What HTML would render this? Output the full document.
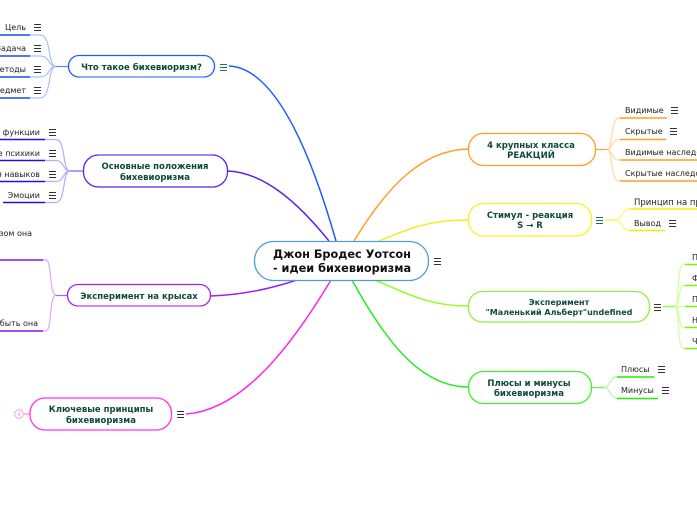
<!DOCTYPE html>
<html><head><meta charset="utf-8"><style>
html,body{margin:0;padding:0;background:#fff;width:697px;height:520px;overflow:hidden}
svg{display:block}
text{font-family:"DejaVu Sans",sans-serif}
.b{font-size:8.5px;font-weight:bold;fill:#0f4a3a;text-anchor:middle}
.l{font-size:8px;fill:#222}
.e{text-anchor:end}
.m{stroke:#333;stroke-width:1;fill:none}
.f{fill:none}
rect{stroke-width:1.3}
</style></head><body>
<svg width="697" height="520" viewBox="0 0 697 520" xmlns="http://www.w3.org/2000/svg">
<defs>
<path id="menu" d="M0 0.5H7M0 3.5H7M0 6.5H7"/>
</defs>

<!-- main connectors -->
<g class="f" stroke-width="1.500">
<path d="M229 66C275 68 310 150 336 241" stroke="#1a5cff"/>
<path d="M227 171C265 172 300 205 329 241" stroke="#5a22ee"/>
<path d="M211 296C240 295 270 289 297 280" stroke="#a020f0"/>
<path d="M186 414C245 410 295 340 331 280" stroke="#ff22ee"/>
<path d="M354 241C385 190 420 150 468 149" stroke="#ffa020"/>
<path d="M379 241C410 228 430 220 468 220" stroke="#f0f020"/>
<path d="M375 280C410 295 430 306 468 306" stroke="#90ff20"/>
<path d="M352 280C385 340 420 387 468 387" stroke="#22ee22"/>
</g>

<!-- blue -->
<g class="f" stroke="#a8bfff" stroke-width="1.200">
<path d="M30 35H40C52 35 47 66 56 66.500"/>
<path d="M30 56H40C50 56 48 66.500 56 66.500"/>
<path d="M30 77H40C50 77 48 66.500 56 66.500"/>
<path d="M30 98H40C52 98 47 66.500 56 66.500"/>
<path d="M56 66.500H68" stroke="#5a8cff"/>
</g>
<g stroke="#1a4cf0" stroke-width="1.500"><path d="M0 35H30M0 56H30M0 77H30M0 98H30"/></g>
<rect x="68.500" y="55.500" width="146" height="21.500" rx="10.500" fill="#fff" stroke="#1a5cff"/>
<path d="M79 77H204" stroke="#7fa4ff" stroke-width="1.500"/>
<text class="b" x="141.500" y="70">Что такое бихевиоризм?</text>
<text class="l e" x="26" y="30">Цель</text>
<text class="l e" x="26" y="51">Задача</text>
<text class="l e" x="26" y="72">Методы</text>
<text class="l e" x="26" y="93">Предмет</text>
<g class="m"><use href="#menu" x="34" y="24"/><use href="#menu" x="34" y="45"/><use href="#menu" x="34" y="66"/><use href="#menu" x="34" y="87"/><use href="#menu" x="220" y="64" stroke="#2a6a5a"/></g>

<!-- purple-blue -->
<g class="f" stroke="#b8a8ff" stroke-width="1.200">
<path d="M45 139.500H56C66 139.500 62 171 70 171"/>
<path d="M45 160.500H56C64 160.500 63 171 70 171"/>
<path d="M45 181.500H56C64 181.500 63 171 70 171"/>
<path d="M45 202.500H56C66 202.500 62 171 70 171"/>
<path d="M70 171H83" stroke="#7a5aff"/>
</g>
<g stroke="#2a0ae8" stroke-width="1.500"><path d="M0 139.500H45M0 160.500H45M0 181.500H45M3 202.500H45"/></g>
<rect x="83.500" y="155" width="144" height="32" rx="15" fill="#fff" stroke="#5a22ee"/>
<path d="M98 155H212" stroke="#8a70ff" stroke-width="1.500"/>
<text class="b" x="155" y="169">Основные положения</text>
<text class="b" x="155" y="180">бихевиоризма</text>
<text class="l e" x="40" y="135">функции</text>
<text class="l e" x="40" y="156">е психики</text>
<text class="l e" x="40" y="177">я навыков</text>
<text class="l e" x="40" y="198">Эмоции</text>
<g class="m"><use href="#menu" x="49" y="129"/><use href="#menu" x="49" y="150"/><use href="#menu" x="49" y="171"/><use href="#menu" x="49" y="192"/></g>

<!-- rats -->
<g class="f" stroke="#d8a8ff" stroke-width="1.200">
<path d="M43 260H46C52 260 49 295 56 295"/>
<path d="M43 331H46C52 331 49 295 56 295"/>
<path d="M56 295.500H67" stroke="#b060ff"/>
</g>
<g stroke="#8a10e8" stroke-width="1.500"><path d="M0 260H43M0 331H43"/></g>
<rect x="67.500" y="284.500" width="143" height="21.500" rx="10.500" fill="#fff" stroke="#a020f0"/>
<path d="M78 306H200" stroke="#c878ff" stroke-width="1.500"/>
<text class="b" x="139" y="299">Эксперимент на крысах</text>
<text class="l e" x="32" y="236">зом она</text>
<text class="l e" x="38" y="326">быть она</text>

<!-- pink -->
<path d="M24 414H30" stroke="#ff66ee" stroke-width="1"/>
<circle cx="19" cy="414" r="4.300" fill="#fff" stroke="#ff88f0" stroke-width="0.800"/>
<text x="19" y="416" font-size="5" fill="#ff88f0" text-anchor="middle">4</text>
<rect x="30" y="398" width="141.500" height="32" rx="15" fill="#fff" stroke="#ff33ee"/>
<text class="b" x="101" y="412">Ключевые принципы</text>
<text class="b" x="101" y="423">бихевиоризма</text>
<use href="#menu" x="177" y="411" class="m" stroke="#2a6a5a"/>

<!-- central -->
<rect x="254.500" y="241.500" width="174" height="39" rx="19" fill="#fff" stroke="#4a9fd8"/>
<text x="342" y="258" font-size="11.300" font-weight="bold" fill="#111" text-anchor="middle">Джон Бродес Уотсон</text>
<text x="342" y="272" font-size="11.300" font-weight="bold" fill="#111" text-anchor="middle">- идеи бихевиоризма</text>
<use href="#menu" x="434" y="258" class="m"/>

<!-- orange -->
<g class="f" stroke="#ffd8a0" stroke-width="1.200">
<path d="M620 118H619C610 118 613 149.500 607 149.500"/>
<path d="M620 139.500H619C612 139.500 612 149.500 607 149.500"/>
<path d="M620 160H619C612 160 612 149.500 607 149.500"/>
<path d="M620 181H619C610 181 613 149.500 607 149.500"/>
<path d="M595 149.500H607" stroke="#ffa040"/>
</g>
<g stroke="#ffa020" stroke-width="1.500"><path d="M620 118H667M620 139.500H666M620 160H697M620 181H697"/></g>
<rect x="468.500" y="133.500" width="127" height="32" rx="15" fill="#fff" stroke="#ffa020"/>
<text class="b" x="531" y="148">4 крупных класса</text>
<text class="b" x="531" y="158">РЕАКЦИЙ</text>
<text class="l" x="625" y="113">Видимые</text>
<text class="l" x="625" y="134">Скрытые</text>
<text class="l" x="625" y="155">Видимые наследственные</text>
<text class="l" x="625" y="176">Скрытые наследственные</text>
<g class="m"><use href="#menu" x="671" y="107"/><use href="#menu" x="670" y="128"/></g>

<!-- yellow -->
<g class="f" stroke="#f8f870" stroke-width="1.200">
<path d="M630 209H629C622 209 622 220 615 220"/>
<path d="M630 230.500H629C622 230.500 622 220 615 220"/>
<path d="M605 220H615" stroke="#f0f020"/>
</g>
<g stroke="#f0f000" stroke-width="1.500"><path d="M630 209H697M630 230.500H665"/></g>
<rect x="468.500" y="203.500" width="123" height="32.500" rx="15" fill="#fff" stroke="#f4f420"/>
<text class="b" x="530" y="218">Стимул - реакция</text>
<text class="b" x="530" y="228">S → R</text>
<text class="l" x="634" y="205" style="font-size:8.500px">Принцип на практике</text>
<text class="l" x="634" y="226">Вывод</text>
<g class="m"><use href="#menu" x="669" y="220"/><use href="#menu" x="596" y="217" stroke="#2a6a5a"/></g>

<!-- lime -->
<g class="f" stroke="#d0ffa0" stroke-width="1.200">
<path d="M685 264H684C676 264 680 306.500 675 306.500"/>
<path d="M685 285.500H684C678 285.500 680 306.500 675 306.500"/>
<path d="M685 306.500H675"/>
<path d="M685 327.500H684C678 327.500 680 306.500 675 306.500"/>
<path d="M685 348.500H684C676 348.500 680 306.500 675 306.500"/>
<path d="M663 306.500H675" stroke="#90ff30" stroke-width="1.500"/>
</g>
<g stroke="#80f010" stroke-width="1.500"><path d="M685 264.500H697M685 285.500H697M685 306.500H697M685 327.500H697M685 348.500H697"/></g>
<rect x="468.500" y="291.500" width="181" height="30.500" rx="14" fill="#fff" stroke="#90f040"/>
<text class="b" x="559" y="305" style="font-size:8px">Эксперимент</text>
<text class="b" x="559" y="315" style="font-size:8px">"Маленький Альберт"undefined</text>
<text class="l" x="692" y="260">П</text>
<text class="l" x="692" y="281">Ф</text>
<text class="l" x="692" y="302">П</text>
<text class="l" x="692" y="323">Н</text>
<text class="l" x="692" y="344">Ч</text>
<use href="#menu" x="654" y="304" class="m" stroke="#2a6a5a"/>

<!-- green -->
<g class="f" stroke="#b0f8a0" stroke-width="1.200">
<path d="M617 377H616C610 377 610 387.500 604 387.500"/>
<path d="M617 398H616C610 398 610 387.500 604 387.500"/>
<path d="M592 387.500H604" stroke="#70f040"/>
</g>
<g stroke="#22ee00" stroke-width="1.500"><path d="M617 377H654M617 398.500H658"/></g>
<rect x="468.500" y="371.500" width="123" height="32" rx="15" fill="#fff" stroke="#40ee30"/>
<text class="b" x="529" y="386">Плюсы и минусы</text>
<text class="b" x="529" y="396">бихевиоризма</text>
<text class="l" x="621" y="372">Плюсы</text>
<text class="l" x="621" y="393">Минусы</text>
<g class="m"><use href="#menu" x="658" y="366"/><use href="#menu" x="662" y="387"/></g>
</svg>
</body></html>
